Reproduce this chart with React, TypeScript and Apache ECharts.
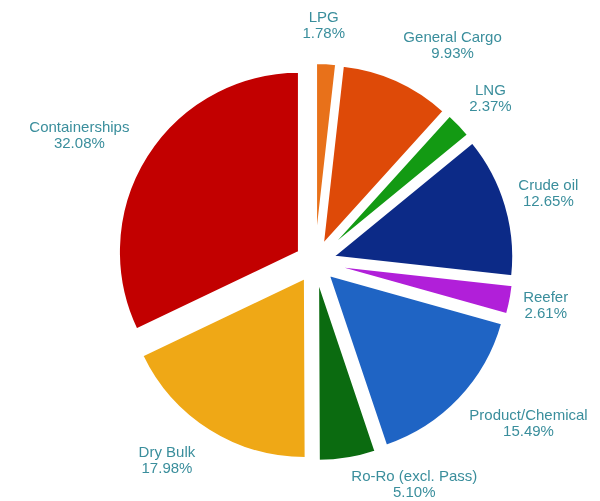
import React, { useEffect, useRef } from 'react';
import * as echarts from 'echarts';

const categories = [
  'LPG',
  'General Cargo',
  'LNG',
  'Crude oil',
  'Reefer',
  'Product/Chemical',
  'Ro-Ro (excl. Pass)',
  'Dry Bulk',
  'Containerships',
];
const shares = [1.78, 9.93, 2.37, 12.65, 2.61, 15.49, 5.1, 17.98, 32.08];
const colors = ['#e8711a', '#de4a08', '#139a13', '#0c2a87', '#b11fd9', '#1f64c4', '#0b6b10', '#efa816', '#c20000'];

const WIDTH = 600;
const HEIGHT = 501;
const CX = 315;
const CY = 262;
const R = 180;
const OFFSET = 19;
const LABEL_CX = 312;
const LABEL_CY = 260;
const LABEL_RX = 210;
const LABEL_RY = 236;
const LABEL_GAP = 5;
const LABEL_COLOR = '#3a8e9c';
const FONT_SIZE = 15;
const LINE_HEIGHT = 16;
const FONT_FAMILY = '"Liberation Sans", Arial, sans-serif';

export default function App() {
  const ref = useRef<HTMLDivElement>(null);
  useEffect(() => {
    const chart = echarts.init(ref.current!, null, { renderer: 'svg' });
    const total = shares.reduce((a, b) => a + b, 0);
    const ctx = document.createElement('canvas').getContext('2d')!;
    ctx.font = `${FONT_SIZE}px ${FONT_FAMILY}`;
    let acc = 0;
    const labels = shares.map((v, i) => {
      const a = ((acc + v / 2) / total) * 2 * Math.PI;
      acc += v;
      const s = Math.sin(a);
      const c = Math.cos(a);
      const text = `${categories[i]}\n${v.toFixed(2)}%`;
      const w = Math.max(...text.split('\n').map((t) => ctx.measureText(t).width));
      let x = LABEL_CX + LABEL_RX * s;
      if (Math.abs(s) >= 0.1) x += s > 0 ? LABEL_GAP + w / 2 : -(LABEL_GAP + w / 2);
      let y = LABEL_CY - LABEL_RY * c;
      y = Math.min(y, HEIGHT - LINE_HEIGHT - 2);
      return {
        type: 'text',
        x,
        y,
        silent: true,
        style: {
          text,
          fill: LABEL_COLOR,
          fontSize: FONT_SIZE,
          lineHeight: LINE_HEIGHT,
          fontFamily: FONT_FAMILY,
          align: 'center',
          textAlign: 'center',
          verticalAlign: 'middle',
          textVerticalAlign: 'middle',
        },
      };
    });
    chart.setOption({
      animation: false,
      graphic: labels,
      series: [
        {
          type: 'pie',
          center: [CX, CY],
          radius: R,
          startAngle: 90,
          clockwise: true,
          selectedMode: 'multiple',
          selectedOffset: OFFSET,
          avoidLabelOverlap: false,
          itemStyle: { borderColor: '#ffffff', borderWidth: 2 },
          select: { itemStyle: { borderColor: '#ffffff', borderWidth: 2 }, label: { show: false } },
          emphasis: { disabled: true },
          label: { show: false },
          labelLine: { show: false },
          data: categories.map((name, i) => ({
            name,
            value: shares[i],
            selected: true,
            itemStyle: { color: colors[i] },
          })),
        },
      ],
    });
    return () => chart.dispose();
  }, []);
  return <div ref={ref} style={{ position: 'fixed', left: 0, top: 0, width: WIDTH, height: HEIGHT }} />;
}
